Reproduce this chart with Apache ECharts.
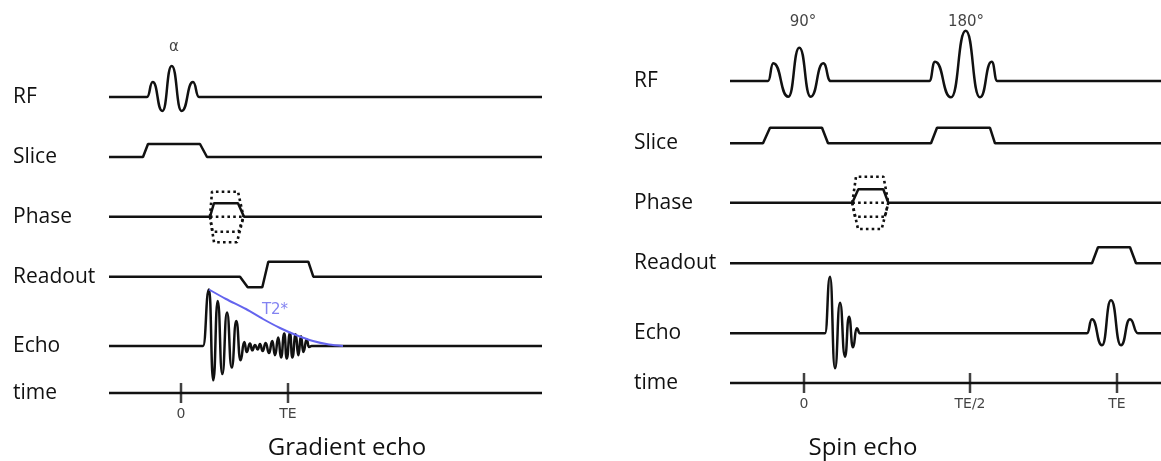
<!DOCTYPE html>
<html><head><meta charset="utf-8">
<script src="https://cdn.jsdelivr.net/npm/echarts@6/dist/echarts.min.js"></script>
<style>html,body{margin:0;padding:0;background:#fff}#c{width:1161px;height:461px}</style>
</head><body><div id="c"></div>
<script>
// ---------- data (time in arbitrary units, tick "0" = 0; amplitude in arbitrary units) ----------
const rowLabels = ['RF', 'Slice', 'Phase', 'Readout', 'Echo', 'time'];

// Gradient echo
const geTimeRange = [-72, 361];
const geTicks = [0, 107];
const geTickLabels = ['0', 'TE'];
const geRF = [[-72,0],[-34,0],[-28.3,15],[-18.7,-14],[-9.3,31],[0.7,-14],[12,15],[18,0],[361,0]];
const geSlice = [[-72,0],[-38,0],[-33,13],[19,13],[26,0],[361,0]];
const gePhase = [[-72,0],[29,0],[33,13.5],[57,13.5],[63,0],[361,0]];
const gePhaseSteps = [
  [[29,0],[31,25],[57,25],[62.5,0]],
  [[29,0],[63,0]],
  [[29,0],[31.5,-15],[57.5,-15],[62.5,0]],
  [[29,0],[33,-25.5],[56,-25.5],[62.5,0]]
];
const geReadout = [[-72,0],[59,0],[66.7,-10.5],[81.3,-10.5],[87.3,15],[127.3,15],[132.3,0],[361,0]];
const geEcho = [[-72,0],[22,0],[28,56.5],[32.3,-34.3],[36.7,45],[41.3,-28],[46,33.4],[50.7,-21.6],[55.3,25],[59.5,-14.3],
  [63.3,4],[65.7,-6],[69,2.4],[71.3,-4.3],[74,1],[76.7,-3.6],[79,2],[81.7,-5],[84.7,3],[88,-7],[91.3,5],[94,-9.3],
  [97.3,8.4],[100,-11.6],[103.3,12.4],[105.7,-12.6],[109,13],[111.3,-11.6],[114.7,11.7],[117.3,-9.3],[120,9.7],
  [122.3,-6],[125.7,6.4],[128,-1],[130.7,0],[361,0]];
const geT2star = [[28,56.5],[45,47],[65,37],[82,27],[99,18],[115,11],[132,5],[148,1.5],[162,0]];
const geRFLabel = {text: 'α', at: [-7, 50]};
const geT2Label = {text: 'T2*', at: [94, 36]};

// Spin echo
const seTimeRange = [-74, 357];
const seTicks = [0, 166, 313];
const seTickLabels = ['0', 'TE/2', 'TE'];
const seRF = [[-74,0],[-36,0],[-30.7,17.7],[-15.7,-15.7],[-4.7,33.3],[6.7,-15.7],[19.3,17.7],[26.7,0],
  [125.3,0],[131,19.3],[147,-16.3],[161.7,50.3],[176,-16.3],[187.7,19.3],[193.3,0],[357,0]];
const seSlice = [[-74,0],[-41,0],[-34,15.5],[18,15.5],[24,0],[127,0],[133,15.5],[186,15.5],[191,0],[357,0]];
const sePhase = [[-74,0],[48.3,0],[54.3,13.4],[79.3,13.4],[84.3,0],[357,0]];
const sePhaseSteps = [
  [[48.3,0],[52,26],[79.5,26],[84.3,0]],
  [[48.3,0],[84.3,0]],
  [[48.3,0],[51,-14],[81,-14],[84.3,0]],
  [[48.3,0],[54,-26.3],[77.7,-26.3],[84.3,0]]
];
const seReadout = [[-74,0],[288,0],[294,16],[326,16],[332,0],[357,0]];
const seEcho = [[-74,0],[21,0],[26,56.6],[31,-35],[36,30.6],[41,-23.4],[45,16.6],[49,-14],[52.7,5],[56,0],
  [283,0],[288,14],[298,-12],[307,33],[317,-12],[326,14],[334,0],[357,0]];
const seRFLabels = [{text: '90°', at: [-1, 59]}, {text: '180°', at: [162, 59]}];

const titles = ['Gradient echo', 'Spin echo'];

// ---------- layout ----------
const R = 70;
const INK = '#111';
const panels = [
  {left: 109, width: 433, range: geTimeRange, base: [97, 157, 216.7, 276.7, 346, 395], titleX: 347,
   rows: {RF: geRF, Slice: geSlice, Phase: gePhase, Readout: geReadout, Echo: geEcho},
   steps: gePhaseSteps, ticks: geTicks, tickLabels: geTickLabels, notes: [geRFLabel]},
  {left: 730, width: 431, range: seTimeRange, base: [81, 143.3, 202.7, 263.3, 333.3, 383], titleX: 863,
   rows: {RF: seRF, Slice: seSlice, Phase: sePhase, Readout: seReadout, Echo: seEcho},
   steps: sePhaseSteps, ticks: seTicks, tickLabels: seTickLabels, notes: seRFLabels}
];
const labelDy = {Echo: 3};

const grid = [], xAxis = [], yAxis = [], series = [];
const smoothRows = {RF: true, Echo: true};

function lineSeries(gi, data, extra) {
  return Object.assign({
    type: 'line', xAxisIndex: gi, yAxisIndex: gi, data: data, symbol: 'none', silent: true,
    clip: false, lineStyle: {color: INK, width: 2.5}
  }, extra || {});
}
function noteSeries(gi, note, color, size) {
  return {
    type: 'scatter', xAxisIndex: gi, yAxisIndex: gi, data: [note.at], symbolSize: 1, silent: true,
    itemStyle: {color: 'rgba(0,0,0,0)'},
    label: {show: true, position: 'inside', formatter: note.text, color: color,
            fontFamily: 'DejaVu Sans', fontSize: size}
  };
}

panels.forEach((p, pi) => {
  rowLabels.forEach((name, ri) => {
    const gi = pi * rowLabels.length + ri;
    grid.push({left: p.left, width: p.width, top: p.base[ri] - R, height: 2 * R});
    xAxis.push({gridIndex: gi, type: 'value', min: p.range[0], max: p.range[1], show: false});
    yAxis.push({
      gridIndex: gi, type: 'value', min: -R, max: R, interval: R,
      axisLine: {show: false, onZero: false}, axisTick: {show: false}, splitLine: {show: false},
      axisLabel: {show: true, margin: 96, align: 'left', color: INK,
                  fontFamily: 'Open Sans', fontSize: 21, padding: [labelDy[name] || 0, 0, 0, 0],
                  formatter: v => (v === 0 ? name : '')}
    });
    if (p.rows[name]) {
      const extra = smoothRows[name] ? {smooth: 0.55, smoothMonotone: 'x'} : {};
      series.push(lineSeries(gi, p.rows[name], extra));
    }
    if (name === 'Phase') {
      p.steps.forEach(s => series.push(lineSeries(gi, s, {
        lineStyle: {color: INK, width: 2.6, type: [2.6, 3.2], cap: 'butt'}
      })));
    }
    if (name === 'RF') {
      p.notes.forEach(n => series.push(noteSeries(gi, n, INK, 15)));
    }
    if (name === 'Echo' && pi === 0) {
      series.push(lineSeries(gi, geT2star, {smooth: 0.3, lineStyle: {color: '#6464ee', width: 2}}));
      series.push(noteSeries(gi, geT2Label, '#6464ee', 15));
    }
    if (name === 'time') {
      series.push(lineSeries(gi, [[p.range[0], 0], [p.range[1], 0]]));
      series.push({
        type: 'scatter', xAxisIndex: gi, yAxisIndex: gi, silent: true,
        data: p.ticks.map(t => [t, 0]), symbol: 'rect', symbolSize: [2.5, 20],
        itemStyle: {color: INK},
        label: {show: true, position: 'bottom', distance: 4, color: INK,
                fontFamily: 'DejaVu Sans', fontSize: 14,
                formatter: prm => p.tickLabels[prm.dataIndex]}
      });
    }
  });
});

const graphic = panels.map((p, pi) => ({
  type: 'text', x: p.titleX, y: 448, silent: true,
  style: {text: titles[pi], fill: INK, font: '24px "Open Sans"', textAlign: 'center', textVerticalAlign: 'middle'}
}));

const chart = echarts.init(document.getElementById('c'));
chart.setOption({
  animation: false, backgroundColor: '#fff',
  grid, xAxis, yAxis, series, graphic
});
</script></body></html>
